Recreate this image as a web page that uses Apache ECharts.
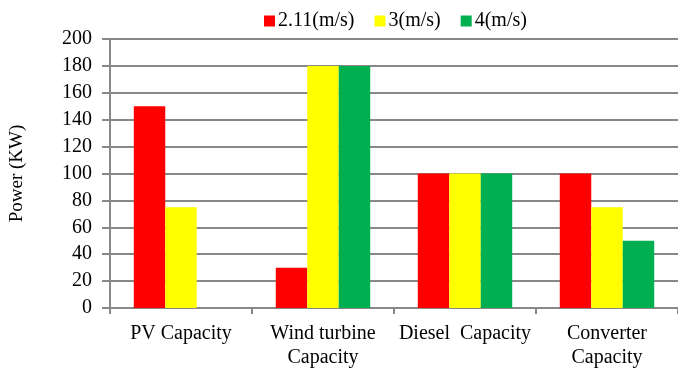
<!DOCTYPE html>
<html><head><meta charset="utf-8">
<script src="https://cdn.jsdelivr.net/npm/echarts@6/dist/echarts.min.js"></script>
<style>html,body{margin:0;padding:0;background:#fff}#c{width:678px;height:371px}</style>
</head><body><div id="c"></div>
<script>
const categories = ['PV Capacity', 'Wind turbine\nCapacity', 'Diesel  Capacity', 'Converter\nCapacity'];
const seriesNames = ['2.11(m/s)', '3(m/s)', '4(m/s)'];
const s211 = [150, 30, 100, 100];
const s3 = [75, 180, 100, 75];
const s4 = [null, 180, 100, 50];
const colors = ['#FF0000', '#FFFF00', '#00B050'];
const font = '"Liberation Serif", "Times New Roman", serif';
const chart = echarts.init(document.getElementById('c'));
chart.setOption({
  animation: false,
  textStyle: { fontFamily: font },
  legend: {
    top: 6, left: 259, itemWidth: 11, itemHeight: 11, itemGap: 20,
    icon: 'rect',
    textStyle: { fontFamily: font, fontSize: 20, color: '#000', padding: [0, 0, 0, -2] },
    data: seriesNames
  },
  grid: { left: 108, right: -2, top: 39, bottom: 63 },
  xAxis: {
    type: 'category', data: categories,
    axisLine: { lineStyle: { color: '#888', width: 2 } },
    axisTick: { show: true, length: 6, lineStyle: { color: '#888', width: 2 } },
    axisLabel: { interval: 0, fontFamily: font, fontSize: 20, color: '#000', margin: 14, lineHeight: 24 }
  },
  yAxis: {
    type: 'value', min: 0, max: 200, interval: 20,
    name: 'Power (KW)', nameLocation: 'middle', nameGap: 83, nameRotate: 90,
    nameTextStyle: { fontFamily: font, fontSize: 19, color: '#000' },
    axisLine: { show: true, lineStyle: { color: '#888', width: 2 } },
    axisTick: { show: true, length: 8, lineStyle: { color: '#888', width: 2 } },
    axisLabel: { fontFamily: font, fontSize: 20, color: '#000', margin: 18 },
    splitLine: { lineStyle: { color: '#888', width: 2 } }
  },
  series: [
    { name: seriesNames[0], type: 'bar', data: s211, itemStyle: { color: colors[0] }, barGap: '0%', barCategoryGap: '33.5%' },
    { name: seriesNames[1], type: 'bar', data: s3, itemStyle: { color: colors[1] }, barGap: '0%', barCategoryGap: '33.5%' },
    { name: seriesNames[2], type: 'bar', data: s4, itemStyle: { color: colors[2] }, barGap: '0%', barCategoryGap: '33.5%' }
  ]
});
</script></body></html>
